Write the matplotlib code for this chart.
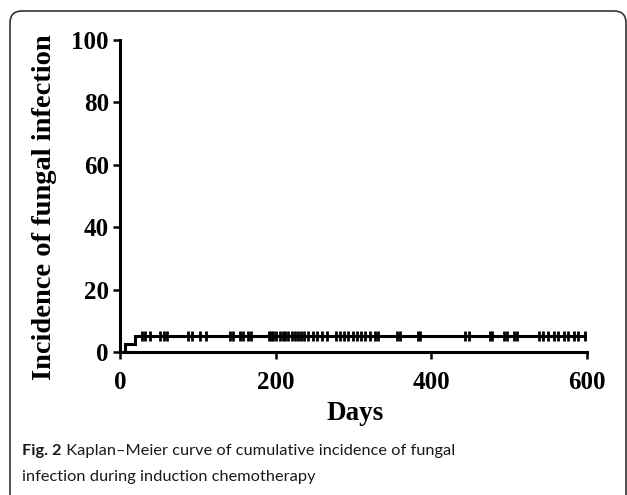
import matplotlib
matplotlib.use("Agg")
import matplotlib.pyplot as plt
from matplotlib.patches import FancyBboxPatch

# Kaplan-Meier step data (cumulative incidence, %)
step_days = [0, 6, 19, 598]
step_incidence = [0.0, 2.63, 5.26, 5.26]

# censored observations (days), all on the 5.26 % plateau
censor_days = [28, 32, 38, 51, 56, 60, 88, 92, 103, 110, 141, 145, 154, 158,
               165, 168, 191, 194, 197, 201, 206, 209, 212, 216, 221, 225,
               229, 233, 237, 242, 248, 253, 259, 266, 278, 283, 288, 293,
               299, 305, 310, 315, 321, 328, 332, 356, 360, 383, 386, 443,
               448, 476, 478, 493, 497, 506, 510, 538, 544, 550, 557, 563,
               570, 576, 583, 589, 597]
censor_level = 5.26

x_ticks = [0, 200, 400, 600]
y_ticks = [0, 20, 40, 60, 80, 100]

serif = ["Liberation Serif", "DejaVu Serif"]

fig = plt.figure(figsize=(6.27, 4.95), dpi=100)
ax = fig.add_axes([120 / 627, 1 - 352 / 495, 467 / 627, 312 / 495])

ax.step(step_days, step_incidence, where="post", color="black", lw=2.2,
        solid_joinstyle="miter")
ax.plot(censor_days, [censor_level] * len(censor_days), ls="none",
        marker="|", ms=7, mew=2.0, color="black")

ax.set_xlim(0, 600)
ax.set_ylim(0, 100)
ax.set_xticks(x_ticks)
ax.set_yticks(y_ticks)
for s in ("top", "right"):
    ax.spines[s].set_visible(False)
for s in ("left", "bottom"):
    ax.spines[s].set_linewidth(2.2)
ax.tick_params(direction="out", length=5, width=1.8, color="black")
ax.tick_params(axis="x", pad=9)
ax.tick_params(axis="y", pad=3)
for lab in ax.get_xticklabels() + ax.get_yticklabels():
    lab.set_family(serif)
    lab.set_fontweight("bold")
    lab.set_fontsize(18)

fig.text(45 / 627, 1 - 207 / 495, "Incidence of fungal infection", rotation=90,
         ha="center", va="center", family=serif, fontweight="bold", fontsize=20.5)
fig.text(355 / 627, 1 - 413 / 495, "Days", ha="center", va="center",
         family=serif, fontweight="bold", fontsize=19.5)

# caption
cap = fig.text(22 / 627, 1 - 455 / 495, "Fig. 2", family="Lato",
               fontweight="bold", fontsize=11.8, va="baseline", color="#1a1a1a")
ax.annotate(" Kaplan\u2013Meier curve of cumulative incidence of fungal",
            xy=(1, 0), xycoords=cap, va="bottom", ha="left",
            family="Lato", fontsize=11.8, color="#1a1a1a",
            annotation_clip=False)
fig.text(22 / 627, 1 - 481 / 495, "infection during induction chemotherapy",
         family="Lato", fontsize=11.8, va="baseline", color="#1a1a1a")

# rounded frame around the panel
frame = FancyBboxPatch((0.10, -0.3), 6.16, 4.84 + 0.3,
                       boxstyle="round,pad=0,rounding_size=0.12",
                       transform=fig.dpi_scale_trans, fill=False,
                       edgecolor="#333333", lw=1.2)
fig.patches.append(frame)

fig.savefig("out.png", dpi=100)
